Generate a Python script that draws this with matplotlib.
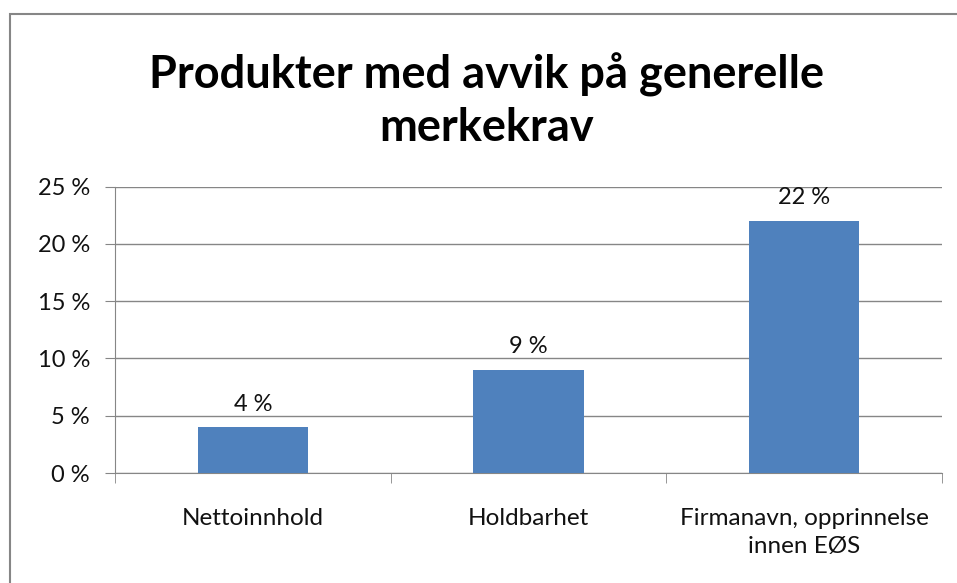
import matplotlib.pyplot as plt
from matplotlib.patches import Rectangle

kategorier = ['Nettoinnhold', 'Holdbarhet', 'Firmanavn, opprinnelse\ninnen EØS']
andel = [4, 9, 22]
etiketter = ['4 %', '9 %', '22 %']
yticks = [0, 5, 10, 15, 20, 25]
ytick_labels = ['0 %', '5 %', '10 %', '15 %', '20 %', '25 %']

plt.rcParams['font.family'] = ['Lato', 'DejaVu Sans']

W, H = 957, 583
fig = plt.figure(figsize=(W / 100, H / 100), dpi=100)

# chart border (left and top visible)
fig.patches.append(Rectangle((10 / W, -0.1), 1.2, (H - 14) / H + 0.1,
                             transform=fig.transFigure, fill=False,
                             edgecolor='#868686', linewidth=1.5))

ax = fig.add_axes([115 / W, 1 - 473 / H, (942 - 115) / W, (473 - 186.5) / H])
x = range(len(kategorier))
bars = ax.bar(x, andel, width=0.4, color='#4f81bd', zorder=3)
for b, lab in zip(bars, etiketter):
    ax.text(b.get_x() + b.get_width() / 2, b.get_height() + 1.1, lab,
            ha='center', va='bottom', fontsize=17, color='#111111')

ax.set_xlim(-0.5, 2.5)
ax.set_ylim(0, 25)
ax.set_yticks(yticks)
ax.set_yticklabels(ytick_labels, fontsize=17, color='#111111')
ax.set_xticks(x)
ax.set_xticklabels(kategorier, fontsize=17.5, color='#111111', linespacing=1.4)
ax.tick_params(axis='x', length=0, pad=25)
ax.tick_params(axis='y', length=7, color='#868686', pad=11)
ax.set_xticks([-0.5, 0.5, 1.5, 2.5], minor=True)
ax.tick_params(axis='x', which='minor', length=7, color='#868686')
ax.grid(axis='y', color='#868686', linewidth=1, zorder=0)
for s in ['top', 'right']:
    ax.spines[s].set_visible(False)
ax.spines['left'].set_color('#868686')
ax.spines['bottom'].set_color('#868686')

fig.text(487 / W, 1 - 101 / H, 'Produkter med avvik på generelle\nmerkekrav',
         ha='center', va='center', fontsize=32.5, fontweight='bold',
         linespacing=1.3)

fig.savefig('out.png', dpi=100)
